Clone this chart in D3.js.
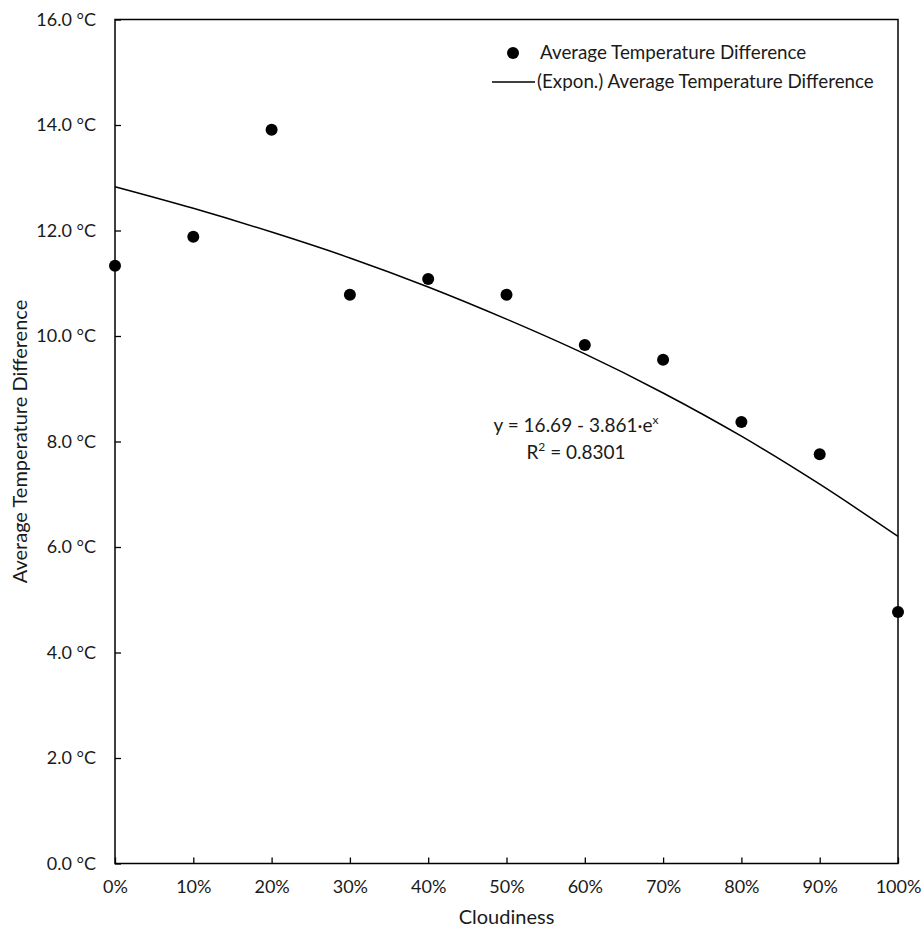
<!DOCTYPE html>
<html lang="en">
<head>
<meta charset="utf-8">
<title>Average Temperature Difference vs Cloudiness</title>
<script src="https://d3js.org/d3.v7.min.js"></script>
<style>
  body { margin: 0; background: #fff; }
  text { font-family: Lato, "Open Sans", sans-serif; fill: #1a1a1a; }
</style>
</head>
<body>
<div id="chart"></div>
<script>
// data
var cloudiness = [0, 0.1, 0.2, 0.3, 0.4, 0.5, 0.6, 0.7, 0.8, 0.9, 1.0];
var avgTempDiff = [11.33, 11.88, 13.91, 10.78, 11.08, 10.78, 9.83, 9.55, 8.37, 7.76, 4.77];
// exponential trendline as drawn on the chart
var trendValues = [12.83, 12.42, 11.97, 11.48, 10.93, 10.32, 9.66, 8.92, 8.10, 7.19, 6.20];
var xTicks = [0, 0.1, 0.2, 0.3, 0.4, 0.5, 0.6, 0.7, 0.8, 0.9, 1.0];
var yTicks = [0, 2, 4, 6, 8, 10, 12, 14, 16];

var W = 922, H = 935;
var margin = {top: 19.5, right: 24, bottom: 71.5, left: 115};
var width = W - margin.left - margin.right,
    height = H - margin.top - margin.bottom;

var svg = d3.select("#chart").append("svg")
    .attr("width", W)
    .attr("height", H);

var g = svg.append("g")
    .attr("transform", "translate(" + margin.left + "," + margin.top + ")");

var x = d3.scaleLinear().domain([0, 1]).range([0, width]);
var y = d3.scaleLinear().domain([0, 16]).range([height, 0]);

// frame
g.append("rect")
    .attr("width", width)
    .attr("height", height)
    .attr("fill", "none")
    .attr("stroke", "#000")
    .attr("stroke-width", 1.5);

// x axis, ticks pointing inward
var xAxis = g.append("g")
    .attr("transform", "translate(0," + height + ")")
    .call(d3.axisBottom(x).tickValues(xTicks).tickSizeInner(-6).tickSizeOuter(0)
        .tickPadding(14).tickFormat(d3.format(".0%")));
xAxis.select(".domain").remove();
xAxis.selectAll(".tick line").attr("stroke", "#000").attr("stroke-width", 1.3);
xAxis.selectAll("text").style("font-size", "18px").attr("dy", "0.85em");

// y axis, ticks pointing inward
var yAxis = g.append("g")
    .call(d3.axisLeft(y).tickValues(yTicks).tickSizeInner(-6).tickSizeOuter(0)
        .tickPadding(19).tickFormat(function(d) { return d3.format(".1f")(d) + " °C"; }));
yAxis.select(".domain").remove();
yAxis.selectAll(".tick line").attr("stroke", "#000").attr("stroke-width", 1.3);
yAxis.selectAll("text").style("font-size", "18px");

// trendline
var line = d3.line()
    .x(function(d, i) { return x(cloudiness[i]); })
    .y(function(d) { return y(d); })
    .curve(d3.curveMonotoneX);

g.append("path")
    .datum(trendValues)
    .attr("d", line)
    .attr("fill", "none")
    .attr("stroke", "#000")
    .attr("stroke-width", 1.5);

// points
g.selectAll("circle.pt")
    .data(avgTempDiff)
    .enter().append("circle")
    .attr("class", "pt")
    .attr("cx", function(d, i) { return x(cloudiness[i]); })
    .attr("cy", function(d) { return y(d); })
    .attr("r", 6)
    .attr("fill", "#000");

// axis titles
svg.append("text")
    .attr("x", margin.left + width / 2)
    .attr("y", 924)
    .attr("text-anchor", "middle")
    .style("font-size", "20px")
    .text("Cloudiness");

svg.append("text")
    .attr("transform", "translate(27," + (margin.top + height / 2) + ") rotate(-90)")
    .attr("text-anchor", "middle")
    .style("font-size", "20px")
    .text("Average Temperature Difference");

// legend
var legend = svg.append("g");
legend.append("circle").attr("cx", 513).attr("cy", 53).attr("r", 6).attr("fill", "#000");
legend.append("text").attr("x", 540).attr("y", 59).style("font-size", "18.8px")
    .text("Average Temperature Difference");
legend.append("line").attr("x1", 492).attr("x2", 535).attr("y1", 82).attr("y2", 82)
    .attr("stroke", "#000").attr("stroke-width", 1.5);
legend.append("text").attr("x", 537).attr("y", 88).style("font-size", "18.8px")
    .text("(Expon.) Average Temperature Difference");

// equation
var eq = svg.append("text").attr("x", 576).attr("y", 432)
    .attr("text-anchor", "middle").style("font-size", "19px");
eq.append("tspan").text("y = 16.69 - 3.861·e");
eq.append("tspan").attr("dy", -8).style("font-size", "12px").text("x");

var r2 = svg.append("text").attr("x", 576).attr("y", 459)
    .attr("text-anchor", "middle").style("font-size", "19px");
r2.append("tspan").text("R");
r2.append("tspan").attr("dy", -8).style("font-size", "12px").text("2");
r2.append("tspan").attr("dy", 8).text(" = 0.8301");
</script>
</body>
</html>
